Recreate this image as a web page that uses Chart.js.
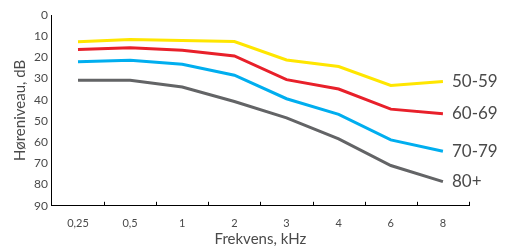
<!DOCTYPE html>
<html>
<head>
<meta charset="utf-8">
<script src="https://cdn.jsdelivr.net/npm/chart.js@4/dist/chart.umd.min.js"></script>
<style>
  html, body { margin: 0; padding: 0; background: #fff; }
  #wrap { width: 505px; height: 248px; }
</style>
</head>
<body>
<div id="wrap"><canvas id="graf"></canvas></div>
<script>
// Hørselstap etter alder
const frekvenser = ["0,25", "0,5", "1", "2", "3", "4", "6", "8"];
const grupper = ["50-59", "60-69", "70-79", "80+"];
const verdi_50 = [12.6, 11.5, 12, 12.5, 21.2, 24.3, 33.2, 31.4];
const verdi_60 = [16.3, 15.5, 16.6, 19.3, 30.5, 34.9, 44.4, 46.6];
const verdi_70 = [22.1, 21.3, 23.2, 28.4, 39.5, 46.9, 58.9, 64.3];
const verdi_80 = [30.8, 30.8, 34, 40.8, 48.5, 58.4, 71, 78.6];
const farger = ["#ffe600", "#e8202a", "#00aeef", "#636466"];

const fonte = "Lato, 'Open Sans', sans-serif";
const tekstfarge = "#4a4a4a";

// skriver gruppenavn ved siste punkt
const etiketter = {
  id: "etiketter",
  afterDatasetsDraw(chart) {
    const ctx = chart.ctx;
    ctx.save();
    ctx.font = "17px " + fonte;
    ctx.fillStyle = tekstfarge;
    ctx.textBaseline = "middle";
    chart.data.datasets.forEach((ds, i) => {
      const meta = chart.getDatasetMeta(i);
      const p = meta.data[meta.data.length - 1];
      ctx.fillText(ds.label, p.x + 9, p.y);
    });
    ctx.restore();
  }
};

// små streker innover på x-aksen, mellom kategoriene
const aksestreker = {
  id: "aksestreker",
  afterDraw(chart) {
    const x = chart.scales.x;
    const ctx = chart.ctx;
    const halv = (x.getPixelForValue(1) - x.getPixelForValue(0)) / 2;
    ctx.save();
    ctx.strokeStyle = "#000";
    ctx.lineWidth = 1;
    for (let i = 0; i < frekvenser.length; i++) {
      const px = Math.round(x.getPixelForValue(i) + halv) + 0.5;
      ctx.beginPath();
      ctx.moveTo(px, x.top);
      ctx.lineTo(px, x.top - 4);
      ctx.stroke();
    }
    ctx.restore();
  }
};

const serier = [verdi_50, verdi_60, verdi_70, verdi_80];

new Chart(document.getElementById("graf"), {
  type: "line",
  data: {
    labels: frekvenser,
    datasets: serier.map((d, i) => ({
      label: grupper[i],
      data: d,
      borderColor: farger[i],
      backgroundColor: farger[i],
      borderWidth: 3,
      pointRadius: 0,
      tension: 0
    }))
  },
  options: {
    responsive: true,
    maintainAspectRatio: false,
    animation: false,
    layout: { padding: { left: 11, right: 36, top: 15, bottom: 0 } },
    plugins: {
      legend: { display: false },
      tooltip: { enabled: false }
    },
    scales: {
      x: {
        offset: true,
        grid: { display: false, drawTicks: false },
        border: { color: "#000", width: 1 },
        ticks: { color: tekstfarge, font: { family: fonte, size: 11 }, padding: 11, maxRotation: 0 },
        title: { display: true, text: "Frekvens, kHz", color: tekstfarge, font: { family: fonte, size: 15 }, padding: { top: -11, bottom: 0 } }
      },
      y: {
        reverse: true,
        min: 0,
        max: 90,
        grid: { display: false, drawTicks: false },
        border: { color: "#000", width: 1 },
        ticks: { stepSize: 10, color: tekstfarge, font: { family: fonte, size: 12 }, padding: 4 },
        title: { display: true, text: "Høreniveau, dB", color: tekstfarge, font: { family: fonte, size: 15 }, padding: { top: 0, bottom: 1 } }
      }
    }
  },
  plugins: [etiketter, aksestreker]
});
</script>
</body>
</html>
